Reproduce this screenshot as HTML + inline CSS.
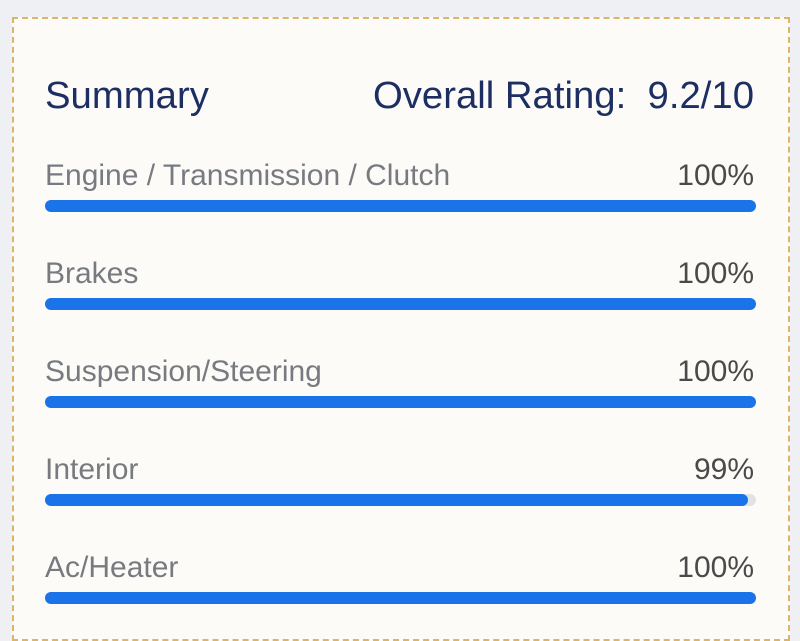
<!DOCTYPE html>
<html><head><style>
body{margin:0;width:800px;height:600px;background:#eef0f3;overflow:hidden;font-family:"Liberation Sans",sans-serif;}
.card{position:absolute;left:12px;top:17px;width:774px;height:620px;border:2px dashed #dcb46a;background:#fcfbf8;}
.t{position:absolute;white-space:nowrap;}
.h{color:#1d2f62;font-size:38.3px;}
.l{color:#777b80;font-size:30px;}
.p{color:#4a4a4a;font-size:30px;right:46px;}
.bg{position:absolute;left:45px;width:711px;height:12px;border-radius:6px;background:#e2e3e5;}
.fg{position:absolute;left:0;top:0;height:12px;border-radius:6px;background:#1a73e8;}
</style></head><body>
<div class="card"></div>
<div class="t h" style="left:45px;top:74px">Summary</div>
<div class="t h" style="right:46px;top:74px">Overall Rating:&nbsp; 9.2/10</div>

<div class="t l" style="left:45px;top:159px">Engine / Transmission / Clutch</div>
<div class="t p" style="top:159px">100%</div>
<div class="bg" style="top:200px"><div class="fg" style="width:711px"></div></div>

<div class="t l" style="left:45px;top:257px">Brakes</div>
<div class="t p" style="top:257px">100%</div>
<div class="bg" style="top:298px"><div class="fg" style="width:711px"></div></div>

<div class="t l" style="left:45px;top:355px">Suspension/Steering</div>
<div class="t p" style="top:355px">100%</div>
<div class="bg" style="top:396px"><div class="fg" style="width:711px"></div></div>

<div class="t l" style="left:45px;top:453px">Interior</div>
<div class="t p" style="top:453px">99%</div>
<div class="bg" style="top:494px"><div class="fg" style="width:703px"></div></div>

<div class="t l" style="left:45px;top:551px">Ac/Heater</div>
<div class="t p" style="top:551px">100%</div>
<div class="bg" style="top:592px"><div class="fg" style="width:711px"></div></div>
</body></html>
